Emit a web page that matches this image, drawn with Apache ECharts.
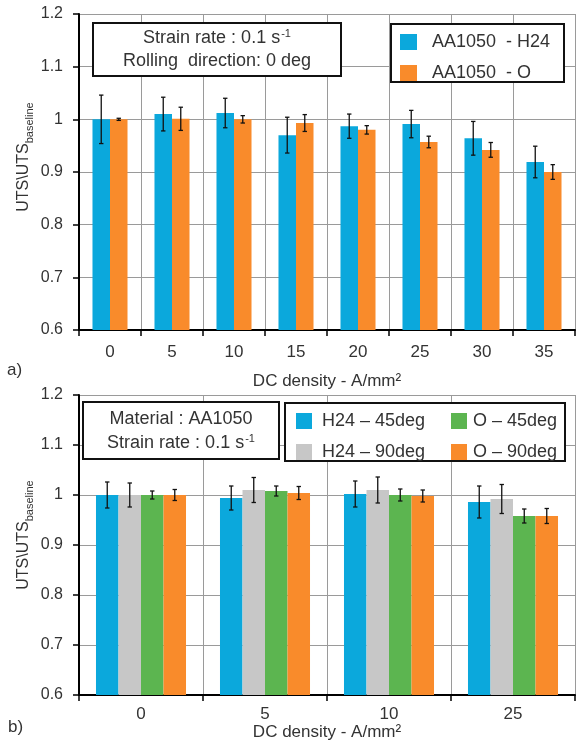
<!DOCTYPE html>
<html>
<head>
<meta charset="utf-8">
<script src="https://cdn.jsdelivr.net/npm/echarts@6/dist/echarts.min.js"></script>
<style>
html,body{margin:0;padding:0;background:#fff;}
#c{width:576px;height:744px;}
</style>
</head>
<body>
<div id="c"></div>
<script>
// ---------- data: panel a ----------
const catsA = ['0', '5', '10', '15', '20', '25', '30', '35'];
const h24A = [1.000, 1.010, 1.012, 0.970, 0.987, 0.991, 0.964, 0.919];
const h24AErr = [0.046, 0.032, 0.028, 0.034, 0.023, 0.026, 0.032, 0.030];
const oA = [1.000, 1.001, 1.000, 0.993, 0.980, 0.957, 0.942, 0.900];
const oAErr = [0.002, 0.022, 0.007, 0.016, 0.008, 0.011, 0.014, 0.014];
const namesA = ['AA1050  - H24', 'AA1050  - O'];

// ---------- data: panel b ----------
const catsB = ['0', '5', '10', '25'];
const h24_45 = [1.000, 0.994, 1.002, 0.986];
const h24_45Err = [0.026, 0.024, 0.026, 0.032];
const h24_90 = [1.000, 1.010, 1.010, 0.992];
const h24_90Err = [0.024, 0.025, 0.026, 0.029];
const o_45 = [1.000, 1.008, 1.000, 0.958];
const o_45Err = [0.008, 0.010, 0.012, 0.014];
const o_90 = [1.000, 1.004, 0.998, 0.958];
const o_90Err = [0.011, 0.013, 0.012, 0.015];
const namesB = ['H24 \u2013 45deg', 'H24 \u2013 90deg', 'O \u2013 45deg', 'O \u2013 90deg'];

const yMin = 0.6, yMax = 1.2, yStep = 0.1;
const xName = 'DC density - A/mm\u00B2';

const FONT = 'Liberation Sans';
const TXT = '#333';
const C_BLUE = '#0BA8DC', C_ORANGE = '#F98B2B', C_GRAY = '#C7C7C7', C_GREEN = '#5CB550';

const GAP_A = 0.435, GAP_B = 0.274;

function errSeries(name, vals, errs, xi, idx, n, gap) {
  return {
    type: 'custom',
    name: name + ' err',
    xAxisIndex: xi, yAxisIndex: xi,
    z: 10,
    clip: false,
    silent: true,
    data: vals.map((v, k) => [k, v, errs[k]]),
    renderItem: function (params, api) {
      const cat = api.value(0), v = api.value(1), e = api.value(2);
      const c = api.coord([cat, v]);
      const band = api.size([1, 0])[0];
      const bw = band * (1 - gap) / n;
      const x = c[0] + (idx - (n - 1) / 2) * bw;
      const hi = api.coord([cat, v + e])[1];
      const lo = api.coord([cat, v - e])[1];
      const cw = 2.2;
      const st = { stroke: '#111', lineWidth: 1.3 };
      return {
        type: 'group',
        children: [
          { type: 'line', shape: { x1: x, y1: hi, x2: x, y2: lo }, style: st },
          { type: 'line', shape: { x1: x - cw, y1: hi, x2: x + cw, y2: hi }, style: st },
          { type: 'line', shape: { x1: x - cw, y1: lo, x2: x + cw, y2: lo }, style: st }
        ]
      };
    }
  };
}

function barSeries(name, vals, color, xi, gap) {
  return {
    type: 'bar', name: name, data: vals,
    xAxisIndex: xi, yAxisIndex: xi,
    barGap: '0%', barCategoryGap: (gap * 100) + '%',
    itemStyle: { color: color },
    silent: true
  };
}

function xAx(cats, gi, margin, nameGap) {
  return {
    type: 'category', data: cats, gridIndex: gi,
    axisLine: { show: true, lineStyle: { color: '#000', width: 2 } },
    axisTick: { show: true, length: 6, lineStyle: { color: '#000', width: 1.5 } },
    axisLabel: { fontSize: 17, color: TXT, margin: margin, fontFamily: FONT },
    splitLine: { show: true, lineStyle: { color: '#9a9a9a', width: 1 } },
    name: xName, nameLocation: 'middle', nameGap: nameGap,
    nameTextStyle: { fontSize: 17, color: TXT, fontFamily: FONT }
  };
}
function yAx(gi) {
  return {
    type: 'value', gridIndex: gi, min: yMin, max: yMax, interval: yStep,
    axisLine: { show: true, lineStyle: { color: '#000', width: 2 } },
    axisTick: { show: true, length: 6, lineStyle: { color: '#000', width: 1.5 } },
    axisLabel: { fontSize: 16, color: TXT, margin: 16, fontFamily: FONT,
      formatter: v => String(+v.toFixed(1)) },
    splitLine: { show: true, lineStyle: { color: '#9a9a9a', width: 1 } }
  };
}

function yTitle(x, y) {
  return {
    type: 'text', x: x, y: y, rotation: Math.PI / 2, z: 100,
    style: {
      text: '{a|UTS\\UTS}{b|baseline}',
      align: 'center', verticalAlign: 'middle',
      rich: {
        a: { fontSize: 16, fontFamily: FONT, fill: TXT, lineHeight: 22, verticalAlign: 'middle' },
        b: { fontSize: 11, fontFamily: FONT, fill: TXT, lineHeight: 22, verticalAlign: 'bottom' }
      }
    }
  };
}
function boxText(x, y, main, sup) {
  return {
    type: 'text', x: x, y: y, z: 100,
    style: {
      text: sup ? '{t|' + main + '}{s|' + sup + '}' : '{t|' + main + '}',
      align: 'center', verticalAlign: 'middle',
      rich: {
        t: { fontSize: 18, fontFamily: FONT, fill: TXT, lineHeight: 20, verticalAlign: 'middle' },
        s: { fontSize: 11, fontFamily: FONT, fill: TXT, lineHeight: 20, verticalAlign: 'top', padding: [0, 0, 0, 1] }
      }
    }
  };
}
function frame(x1, y1, x2, y2) {
  return {
    type: 'rect', z: 90,
    shape: { x: x1, y: y1, width: x2 - x1, height: y2 - y1 },
    style: { fill: '#fff', stroke: '#111', lineWidth: 2 }
  };
}

const legendCommon = {
  orient: 'vertical', icon: 'rect', itemWidth: 16, itemHeight: 16, itemGap: 13,
  selectedMode: false, z: 120, padding: 0,
  textStyle: { fontSize: 18, color: TXT, fontFamily: FONT, lineHeight: 16 }
};

const option = {
  animation: false,
  textStyle: { fontFamily: FONT },
  grid: [
    { left: 79, top: 14, width: 496, height: 316 },
    { left: 79, top: 395, width: 496, height: 300 }
  ],
  xAxis: [xAx(catsA, 0, 14, 43), xAx(catsB, 1, 11, 26)],
  yAxis: [yAx(0), yAx(1)],
  legend: [
    Object.assign({}, legendCommon, { left: 400, top: 33, itemWidth: 17, data: namesA,
      textStyle: Object.assign({}, legendCommon.textStyle, { padding: [0, 0, 0, 10] }) }),
    Object.assign({}, legendCommon, { left: 296, top: 412, data: [namesB[0], namesB[1]],
      textStyle: Object.assign({}, legendCommon.textStyle, { padding: [0, 0, 0, 5] }) }),
    Object.assign({}, legendCommon, { left: 451, top: 412, data: [namesB[2], namesB[3]],
      textStyle: Object.assign({}, legendCommon.textStyle, { padding: [0, 0, 0, 1] }) })
  ],
  series: [
    barSeries(namesA[0], h24A, C_BLUE, 0, GAP_A),
    barSeries(namesA[1], oA, C_ORANGE, 0, GAP_A),
    errSeries(namesA[0], h24A, h24AErr, 0, 0, 2, GAP_A),
    errSeries(namesA[1], oA, oAErr, 0, 1, 2, GAP_A),
    barSeries(namesB[0], h24_45, C_BLUE, 1, GAP_B),
    barSeries(namesB[1], h24_90, C_GRAY, 1, GAP_B),
    barSeries(namesB[2], o_45, C_GREEN, 1, GAP_B),
    barSeries(namesB[3], o_90, C_ORANGE, 1, GAP_B),
    errSeries(namesB[0], h24_45, h24_45Err, 1, 0, 4, GAP_B),
    errSeries(namesB[1], h24_90, h24_90Err, 1, 1, 4, GAP_B),
    errSeries(namesB[2], o_45, o_45Err, 1, 2, 4, GAP_B),
    errSeries(namesB[3], o_90, o_90Err, 1, 3, 4, GAP_B)
  ],
  graphic: [
    frame(93, 23, 341, 76),
    boxText(217, 38.5, 'Strain rate : 0.1 s', '-1'),
    boxText(217, 61.5, 'Rolling  direction: 0 deg'),
    frame(391, 24, 564, 82),
    frame(83, 402, 279, 459),
    boxText(181, 419, 'Material : AA1050'),
    boxText(181, 443, 'Strain rate : 0.1 s', '-1'),
    frame(285, 403, 565, 461),
    yTitle(24, 157),
    yTitle(24, 535),
    { type: 'text', x: 7, y: 370, z: 100, style: { text: 'a)', fontSize: 17, fontFamily: FONT, fill: TXT, verticalAlign: 'middle' } },
    { type: 'text', x: 8, y: 727, z: 100, style: { text: 'b)', fontSize: 17, fontFamily: FONT, fill: TXT, verticalAlign: 'middle' } }
  ]
};

const chart = echarts.init(document.getElementById('c'), null, { renderer: 'canvas' });
chart.setOption(option);
</script>
</body>
</html>
